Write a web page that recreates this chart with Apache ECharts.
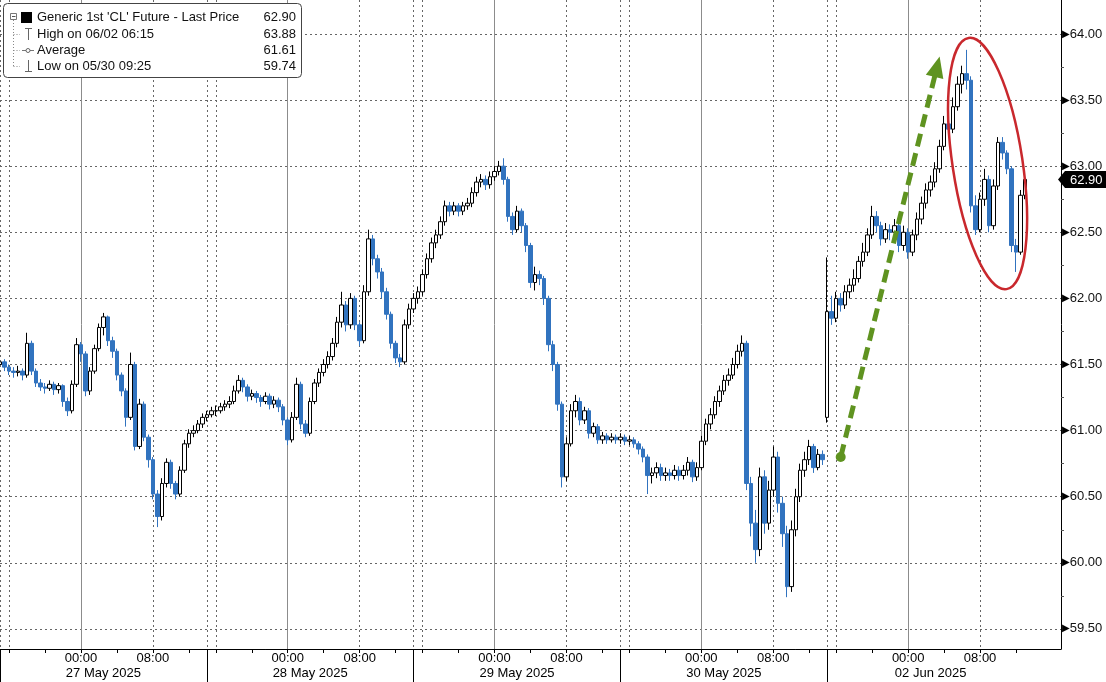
<!DOCTYPE html>
<html><head><meta charset="utf-8">
<script src="https://cdn.jsdelivr.net/npm/echarts@6/dist/echarts.min.js"></script>
<style>html,body{margin:0;padding:0;background:#fff}#c{width:1106px;height:682px}</style>
</head><body><div id="c"></div>
<script>
// ---------- data ----------
const sessionDates = ['27 May 2025', '28 May 2025', '29 May 2025', '30 May 2025', '02 Jun 2025'];
const sessionEve = ['05/26', '05/27', '05/28', '05/29', '06/01'];
const sessionDay = ['05/27', '05/28', '05/29', '05/30', '06/02'];
const yTicks = [59.5, 60, 60.5, 61, 61.5, 62, 62.5, 63, 63.5, 64];
const yMinorTicks = [59.75, 60.25, 60.75, 61.25, 61.75, 62.25, 62.75, 63.25, 63.75];
const legendRows = [
  ["Generic 1st 'CL' Future - Last Price", '62.90'],
  ['High on 06/02 06:15', '63.88'],
  ['Average', '61.61'],
  ['Low on 05/30 09:25', '59.74']
];
// 30-minute bars [open, close, low, high]
const s1 = [
[61.50,61.52,61.47,61.55],[61.52,61.48,61.45,61.54],[61.48,61.45,61.42,61.50],[61.45,61.44,61.40,61.48],
[61.44,61.45,61.41,61.49],[61.45,61.42,61.38,61.47],[61.42,61.66,61.40,61.74],[61.66,61.45,61.42,61.68],
[61.45,61.36,61.33,61.47],[61.36,61.33,61.30,61.39],[61.33,61.32,61.28,61.36],[61.32,61.35,61.30,61.38],
[61.35,61.31,61.27,61.37],[61.31,61.34,61.28,61.36],[61.34,61.22,61.18,61.35],[61.22,61.15,61.11,61.25],
[61.15,61.35,61.13,61.38],[61.35,61.65,61.33,61.70],[61.65,61.58,61.52,61.67],[61.58,61.30,61.26,61.60],
[61.30,61.45,61.27,61.48],[61.45,61.62,61.43,61.65],[61.62,61.78,61.60,61.81],[61.78,61.86,61.72,61.89],
[61.86,61.68,61.64,61.87],[61.68,61.60,61.55,61.71],[61.60,61.42,61.38,61.62],[61.42,61.30,61.26,61.44],
[61.30,61.10,61.03,61.32],[61.10,61.50,61.08,61.59],[61.50,60.88,60.85,61.52],[60.88,61.20,60.86,61.24],
[61.20,60.95,60.92,61.22],[60.95,60.78,60.72,60.97],[60.78,60.52,60.48,60.80],[60.52,60.35,60.27,60.55],
[60.35,60.60,60.32,60.64],[60.60,60.76,60.57,60.79],[60.76,60.60,60.56,60.78],[60.60,60.52,60.48,60.62],
[60.52,60.70,60.50,60.73],[60.70,60.90,60.68,60.93],[60.90,60.98,60.87,61.01],[60.98,61.00,60.95,61.04],
[61.00,61.05,60.98,61.08],[61.05,61.10,61.02,61.13]
];
const s2 = [
[61.10,61.12,61.07,61.15],[61.12,61.15,61.10,61.18],[61.15,61.15,61.11,61.19],[61.15,61.18,61.13,61.21],
[61.18,61.20,61.15,61.23],[61.20,61.22,61.17,61.26],[61.22,61.30,61.20,61.34],[61.30,61.38,61.28,61.42],
[61.38,61.33,61.29,61.40],[61.33,61.26,61.22,61.35],[61.26,61.28,61.23,61.31],[61.28,61.25,61.21,61.30],
[61.25,61.22,61.18,61.27],[61.22,61.26,61.20,61.29],[61.26,61.20,61.16,61.28],[61.20,61.23,61.17,61.26],
[61.23,61.18,61.14,61.25],[61.18,61.08,61.04,61.20],[61.08,60.93,60.89,61.10],[60.93,61.10,60.91,61.14],
[61.10,61.35,61.08,61.40],[61.35,61.05,61.01,61.37],[61.05,60.98,60.95,61.08],[60.98,61.22,60.96,61.25],
[61.22,61.36,61.20,61.39],[61.36,61.44,61.33,61.47],[61.44,61.50,61.41,61.54],[61.50,61.56,61.47,61.60],
[61.56,61.66,61.53,61.70],[61.66,61.82,61.63,61.86],[61.82,61.95,61.78,62.05],[61.95,61.80,61.75,61.98],
[61.80,62.00,61.77,62.04],[62.00,61.80,61.76,62.02],[61.80,61.68,61.64,61.82],[61.68,62.05,61.66,62.10],
[62.05,62.45,62.02,62.52],[62.45,62.30,62.25,62.48],[62.30,62.20,62.15,62.33],[62.20,62.05,62.00,62.23],
[62.05,61.88,61.84,62.08],[61.88,61.66,61.62,61.90],[61.66,61.55,61.51,61.68],[61.55,61.52,61.48,61.58],
[61.52,61.80,61.50,61.84],[61.80,61.92,61.77,61.96]
];
const s3 = [
[61.92,62.00,61.89,62.04],[62.00,62.05,61.96,62.09],[62.05,62.18,62.02,62.22],[62.18,62.30,62.15,62.34],
[62.30,62.42,62.27,62.46],[62.42,62.48,62.38,62.52],[62.48,62.58,62.45,62.62],[62.58,62.70,62.55,62.74],
[62.70,62.66,62.62,62.73],[62.66,62.70,62.63,62.73],[62.70,62.66,62.62,62.72],[62.66,62.70,62.63,62.73],
[62.70,62.72,62.67,62.76],[62.72,62.80,62.69,62.84],[62.80,62.88,62.77,62.92],[62.88,62.90,62.84,62.94],
[62.90,62.86,62.82,62.93],[62.86,62.92,62.83,62.96],[62.92,62.96,62.89,63.00],[62.96,63.00,62.93,63.04],
[63.00,62.90,62.86,63.06],[62.90,62.62,62.58,62.92],[62.62,62.52,62.48,62.65],[62.52,62.66,62.50,62.70],
[62.66,62.55,62.50,62.68],[62.55,62.40,62.35,62.57],[62.40,62.12,62.08,62.42],[62.12,62.18,62.06,62.24],
[62.18,62.15,62.10,62.21],[62.15,62.00,61.95,62.17],[62.00,61.65,61.60,62.02],[61.65,61.50,61.45,61.68],
[61.50,61.20,61.15,61.52],[61.20,60.65,60.57,61.22],[60.65,60.90,60.62,60.95],[60.90,61.15,60.88,61.20],
[61.15,61.22,61.10,61.27],[61.22,61.08,61.04,61.25],[61.08,61.15,61.05,61.18],[61.15,60.98,60.94,61.17],
[60.98,61.03,60.95,61.06],[61.03,60.93,60.90,61.05],[60.93,60.96,60.90,60.99],[60.96,60.93,60.90,60.98],
[60.93,60.95,60.91,60.98],[60.95,60.93,60.90,60.97]
];
const s4 = [
[60.93,60.95,60.90,60.98],[60.95,60.92,60.89,60.97],[60.92,60.93,60.89,60.96],[60.93,60.90,60.87,60.95],
[60.90,60.86,60.82,60.92],[60.86,60.80,60.76,60.88],[60.80,60.66,60.52,60.82],[60.66,60.68,60.60,60.72],
[60.68,60.72,60.64,60.76],[60.72,60.66,60.62,60.75],[60.66,60.68,60.62,60.72],[60.68,60.66,60.62,60.71],
[60.66,60.70,60.63,60.74],[60.70,60.66,60.62,60.73],[60.66,60.70,60.63,60.74],[60.70,60.76,60.66,60.80],
[60.76,60.65,60.61,60.78],[60.65,60.72,60.62,60.76],[60.72,60.92,60.70,60.96],[60.92,61.05,60.89,61.09],
[61.05,61.12,61.01,61.17],[61.12,61.22,61.09,61.26],[61.22,61.30,61.18,61.34],[61.30,61.38,61.27,61.42],
[61.38,61.42,61.34,61.47],[61.42,61.50,61.39,61.55],[61.50,61.60,61.47,61.65],[61.60,61.66,61.56,61.72],
[61.66,60.60,60.55,61.68],[60.60,60.30,60.20,60.65],[60.30,60.10,60.00,60.40],[60.10,60.65,60.05,60.72],
[60.65,60.30,60.22,60.70],[60.30,60.55,60.25,60.62],[60.55,60.80,60.50,60.88],[60.80,60.45,60.38,60.84],
[60.45,60.22,60.12,60.50],[60.22,59.82,59.74,60.28],[59.82,60.25,59.78,60.32],[60.25,60.50,60.20,60.56],
[60.50,60.70,60.46,60.75],[60.70,60.78,60.65,60.84],[60.78,60.88,60.74,60.93],[60.88,60.72,60.68,60.90],
[60.72,60.82,60.70,60.86],[60.82,60.78,60.74,60.85]
];
const s5 = [
[61.10,61.90,61.06,62.31],[61.90,61.85,61.80,62.02],[61.85,62.00,61.82,62.05],[62.00,61.95,61.90,62.04],
[61.95,62.05,61.92,62.10],[62.05,62.10,62.00,62.15],[62.10,62.15,62.05,62.22],[62.15,62.28,62.12,62.32],
[62.28,62.35,62.24,62.42],[62.35,62.48,62.32,62.53],[62.48,62.62,62.45,62.70],[62.62,62.55,62.50,62.66],
[62.55,62.45,62.40,62.58],[62.45,62.52,62.42,62.57],[62.52,62.50,62.44,62.56],[62.50,62.55,62.46,62.60],
[62.55,62.40,62.35,62.58],[62.40,62.50,62.36,62.55],[62.50,62.35,62.30,62.53],[62.35,62.48,62.32,62.52],
[62.48,62.60,62.44,62.65],[62.60,62.72,62.56,62.77],[62.72,62.82,62.68,62.87],[62.82,62.88,62.77,62.93],
[62.88,62.98,62.84,63.03],[62.98,63.15,62.95,63.20],[63.15,63.32,63.12,63.38],[63.32,63.28,63.22,63.37],
[63.28,63.45,63.25,63.52],[63.45,63.62,63.42,63.68],[63.62,63.70,63.55,63.76],[63.70,63.65,63.58,63.88],
[63.65,62.70,62.65,63.68],[62.70,62.52,62.48,62.78],[62.52,62.75,62.50,62.80],[62.75,62.90,62.70,62.98],
[62.90,62.55,62.50,62.93],[62.55,62.85,62.52,62.90],[62.85,63.18,62.82,63.22],[63.18,63.10,63.05,63.22],
[63.10,62.98,62.94,63.12],[62.98,62.40,62.35,63.00],[62.40,62.35,62.20,62.45],[62.35,62.78,62.33,62.82],
[62.78,62.90,62.75,62.93]
];
// annotation anchors in data space [bar index, price]
const arrowFrom = [187, 60.80];
const arrowTo = [209, 63.83];
const ellipseCenter = [219, 63.02];

// ---------- build ----------
const BARS = 46, SESS = 5, TAIL = 7;
const pad = n => (n < 10 ? '0' : '') + n;
const categories = [];
for (let k = 0; k < SESS; k++) {
  for (let j = 0; j < BARS; j++) {
    const mins = 15 * 60 + j * 30;
    const d = mins >= 1440 ? sessionDay[k] : sessionEve[k];
    const m = mins % 1440;
    categories.push(d + ' ' + pad(Math.floor(m / 60)) + ':' + pad(m % 60));
  }
}
for (let j = 0; j < TAIL; j++) {
  const m = 14 * 60 + j * 30;
  categories.push('06/02 ' + pad(Math.floor(m / 60)) + ':' + pad(m % 60));
}
const candles = [].concat(s1, s2, s3, s4, s5);
const lastPrice = s5[s5.length - 1][1];
const FONT = '"Liberation Sans", Arial, sans-serif';
const UP_BORDER = '#000000', DOWN = '#3173bf';
const END = SESS * BARS;
const jOf = i => i % BARS;

const yMin = 59.348, yMax = 64.257;
const chart = echarts.init(document.getElementById('c'), null, { renderer: 'canvas' });
const option = {
  animation: false,
  backgroundColor: '#fff',
  textStyle: { fontFamily: FONT },
  grid: { left: 0, right: 45, top: 0, bottom: 33, containLabel: false },
  xAxis: [
    {
      type: 'category', data: categories, boundaryGap: false, position: 'bottom',
      axisLine: { show: true, lineStyle: { color: '#000', width: 1 } },
      axisTick: { show: true, length: 4, interval: i => i < END && jOf(i) % 8 === 2, lineStyle: { color: '#000' } },
      axisLabel: {
        interval: i => i < END && (jOf(i) === 18 || jOf(i) === 34),
        formatter: v => v.slice(6), color: '#000', fontSize: 13, fontFamily: FONT, margin: 3
      },
      splitLine: {
        show: true, interval: i => i < END && (jOf(i) === 0 || jOf(i) === 2 || jOf(i) === 34),
        lineStyle: { color: '#666', type: [2, 3], width: 1 }
      }
    },
    {
      type: 'category', data: categories, boundaryGap: false, position: 'bottom',
      axisLine: { show: false }, axisTick: { show: false }, axisLabel: { show: false },
      splitLine: { show: true, interval: i => i < END && jOf(i) === 18, lineStyle: { color: '#8c8c8c', width: 1 } }
    },
    {
      type: 'category', data: categories, boundaryGap: false, position: 'bottom',
      axisLine: { show: false },
      axisTick: { show: true, length: 34, interval: i => i < END && jOf(i) === 0, lineStyle: { color: '#000' } },
      axisLabel: {
        interval: i => i < END && jOf(i) === 23,
        formatter: (v, idx) => sessionDates[Math.floor(idx / BARS)] || '',
        color: '#000', fontSize: 13, fontFamily: FONT, margin: 18
      },
      splitLine: { show: false }
    }
  ],
  yAxis: [
    {
      type: 'value', position: 'right', min: yMin, max: yMax, scale: true,
      axisLine: { show: true, lineStyle: { color: '#000', width: 1 } },
      axisTick: { show: false, customValues: yTicks },
      axisLabel: {
        customValues: yTicks, margin: 1,
        formatter: v => '{t|\u25B6}{v|' + Number(v).toFixed(2) + '}',
        rich: {
          t: { fontSize: 10, color: '#000', fontFamily: 'DejaVu Sans', padding: [0, 0, 0, 0] },
          v: { fontSize: 13, color: '#111', fontFamily: FONT }
        }
      },
      splitLine: { show: true, lineStyle: { color: '#666', type: [2, 3], width: 1 } }
    },
    {
      type: 'value', position: 'right', min: yMin, max: yMax, scale: true,
      axisLine: { show: false },
      axisTick: { show: true, customValues: yMinorTicks, length: 3, lineStyle: { color: '#555' } },
      axisLabel: { show: false },
      splitLine: { show: false }
    }
  ],
  series: [{
    type: 'candlestick',
    xAxisIndex: 0, yAxisIndex: 0,
    data: candles,
    barWidth: 4,
    itemStyle: { color: '#ffffff', color0: DOWN, borderColor: UP_BORDER, borderColor0: DOWN, borderWidth: 1 }
  }]
};
chart.setOption(option);

// ---------- graphics: legend box, last-price tag, annotations ----------
const G = [];
const Z = 100;
G.push({ type: 'rect', z: Z, shape: { x: 3.5, y: 3.5, width: 298, height: 74, r: 4 }, style: { fill: '#fff', stroke: '#444', lineWidth: 1 } });
G.push({ type: 'line', z: Z, shape: { x1: 13.5, y1: 20, x2: 13.5, y2: 66 }, style: { stroke: '#888', lineDash: [1, 2], lineWidth: 1 } });
[34, 50, 66].forEach(y => G.push({ type: 'line', z: Z, shape: { x1: 13.5, y1: y + 0.5, x2: 20, y2: y + 0.5 }, style: { stroke: '#888', lineDash: [1, 2], lineWidth: 1 } }));
G.push({ type: 'rect', z: Z + 1, shape: { x: 10.5, y: 13.5, width: 6, height: 6 }, style: { fill: '#fff', stroke: '#777', lineWidth: 1 } });
G.push({ type: 'line', z: Z + 1, shape: { x1: 12, y1: 16.5, x2: 15.5, y2: 16.5 }, style: { stroke: '#555', lineWidth: 1 } });
G.push({ type: 'rect', z: Z, shape: { x: 21, y: 12, width: 11, height: 11 }, style: { fill: '#000' } });
G.push({ type: 'line', z: Z, shape: { x1: 28.5, y1: 28, x2: 28.5, y2: 40 }, style: { stroke: '#666', lineWidth: 1 } });
G.push({ type: 'line', z: Z, shape: { x1: 25, y1: 28.5, x2: 32, y2: 28.5 }, style: { stroke: '#666', lineWidth: 1 } });
G.push({ type: 'line', z: Z, shape: { x1: 22, y1: 50.5, x2: 34, y2: 50.5 }, style: { stroke: '#777', lineWidth: 1 } });
G.push({ type: 'circle', z: Z + 1, shape: { cx: 28, cy: 50.5, r: 2 }, style: { fill: '#fff', stroke: '#666', lineWidth: 1 } });
G.push({ type: 'line', z: Z, shape: { x1: 28.5, y1: 60, x2: 28.5, y2: 72 }, style: { stroke: '#666', lineWidth: 1 } });
G.push({ type: 'line', z: Z, shape: { x1: 25, y1: 71.5, x2: 32, y2: 71.5 }, style: { stroke: '#666', lineWidth: 1 } });
const rowY = [17, 34, 50, 66];
legendRows.forEach((r, k) => {
  G.push({ type: 'text', z: Z + 2, x: 37, y: rowY[k], style: { text: r[0], fill: '#111', font: '13px ' + FONT, align: 'left', verticalAlign: 'middle' } });
  G.push({ type: 'text', z: Z + 2, x: 296, y: rowY[k], style: { text: r[1], fill: '#111', font: '13px ' + FONT, align: 'right', verticalAlign: 'middle' } });
});

const toPx = p => chart.convertToPixel({ xAxisIndex: 0, yAxisIndex: 0 }, p);
// last price tag on the right axis
const gridRight = toPx([categories.length - 1, lastPrice]);
const ty = Math.round(gridRight[1]) + 0.5, tx = gridRight[0];
G.push({ type: 'polygon', z: Z, shape: { points: [[tx - 3, ty], [tx + 4, ty - 8.5], [1106, ty - 8.5], [1106, ty + 8.5], [tx + 4, ty + 8.5]] }, style: { fill: '#000' } });
G.push({ type: 'text', z: Z + 1, x: tx + 9, y: ty + 0.5, style: { text: lastPrice.toFixed(2), fill: '#fff', font: '13px ' + FONT, align: 'left', verticalAlign: 'middle' } });

// annotations anchored on data coordinates
const a0 = toPx(arrowFrom), a1 = toPx(arrowTo);
const dx = a1[0] - a0[0], dy = a1[1] - a0[1], len = Math.hypot(dx, dy);
const ux = dx / len, uy = dy / len, nx = -uy, ny = ux;
const headLen = 21, headW = 9;
const base = [a1[0] - ux * headLen, a1[1] - uy * headLen];
const GREEN = '#5f9320';
G.push({ type: 'line', z: Z, shape: { x1: a0[0], y1: a0[1], x2: base[0] + ux * 2, y2: base[1] + uy * 2 }, style: { stroke: GREEN, lineWidth: 5, lineDash: [13, 7] } });
G.push({ type: 'polygon', z: Z, shape: { points: [a1, [base[0] + nx * headW, base[1] + ny * headW], [base[0] - nx * headW, base[1] - ny * headW]] }, style: { fill: GREEN } });
G.push({ type: 'circle', z: Z, shape: { cx: a0[0], cy: a0[1], r: 5 }, style: { fill: GREEN } });
const ec = toPx(ellipseCenter);
G.push({ type: 'ellipse', z: Z, x: ec[0] + 3, y: ec[1], rotation: 0.15, shape: { cx: 0, cy: 0, rx: 35, ry: 127 }, style: { fill: 'none', stroke: '#c9282d', lineWidth: 2.5 } });

chart.setOption({ graphic: { elements: G } });
</script>
</body></html>
